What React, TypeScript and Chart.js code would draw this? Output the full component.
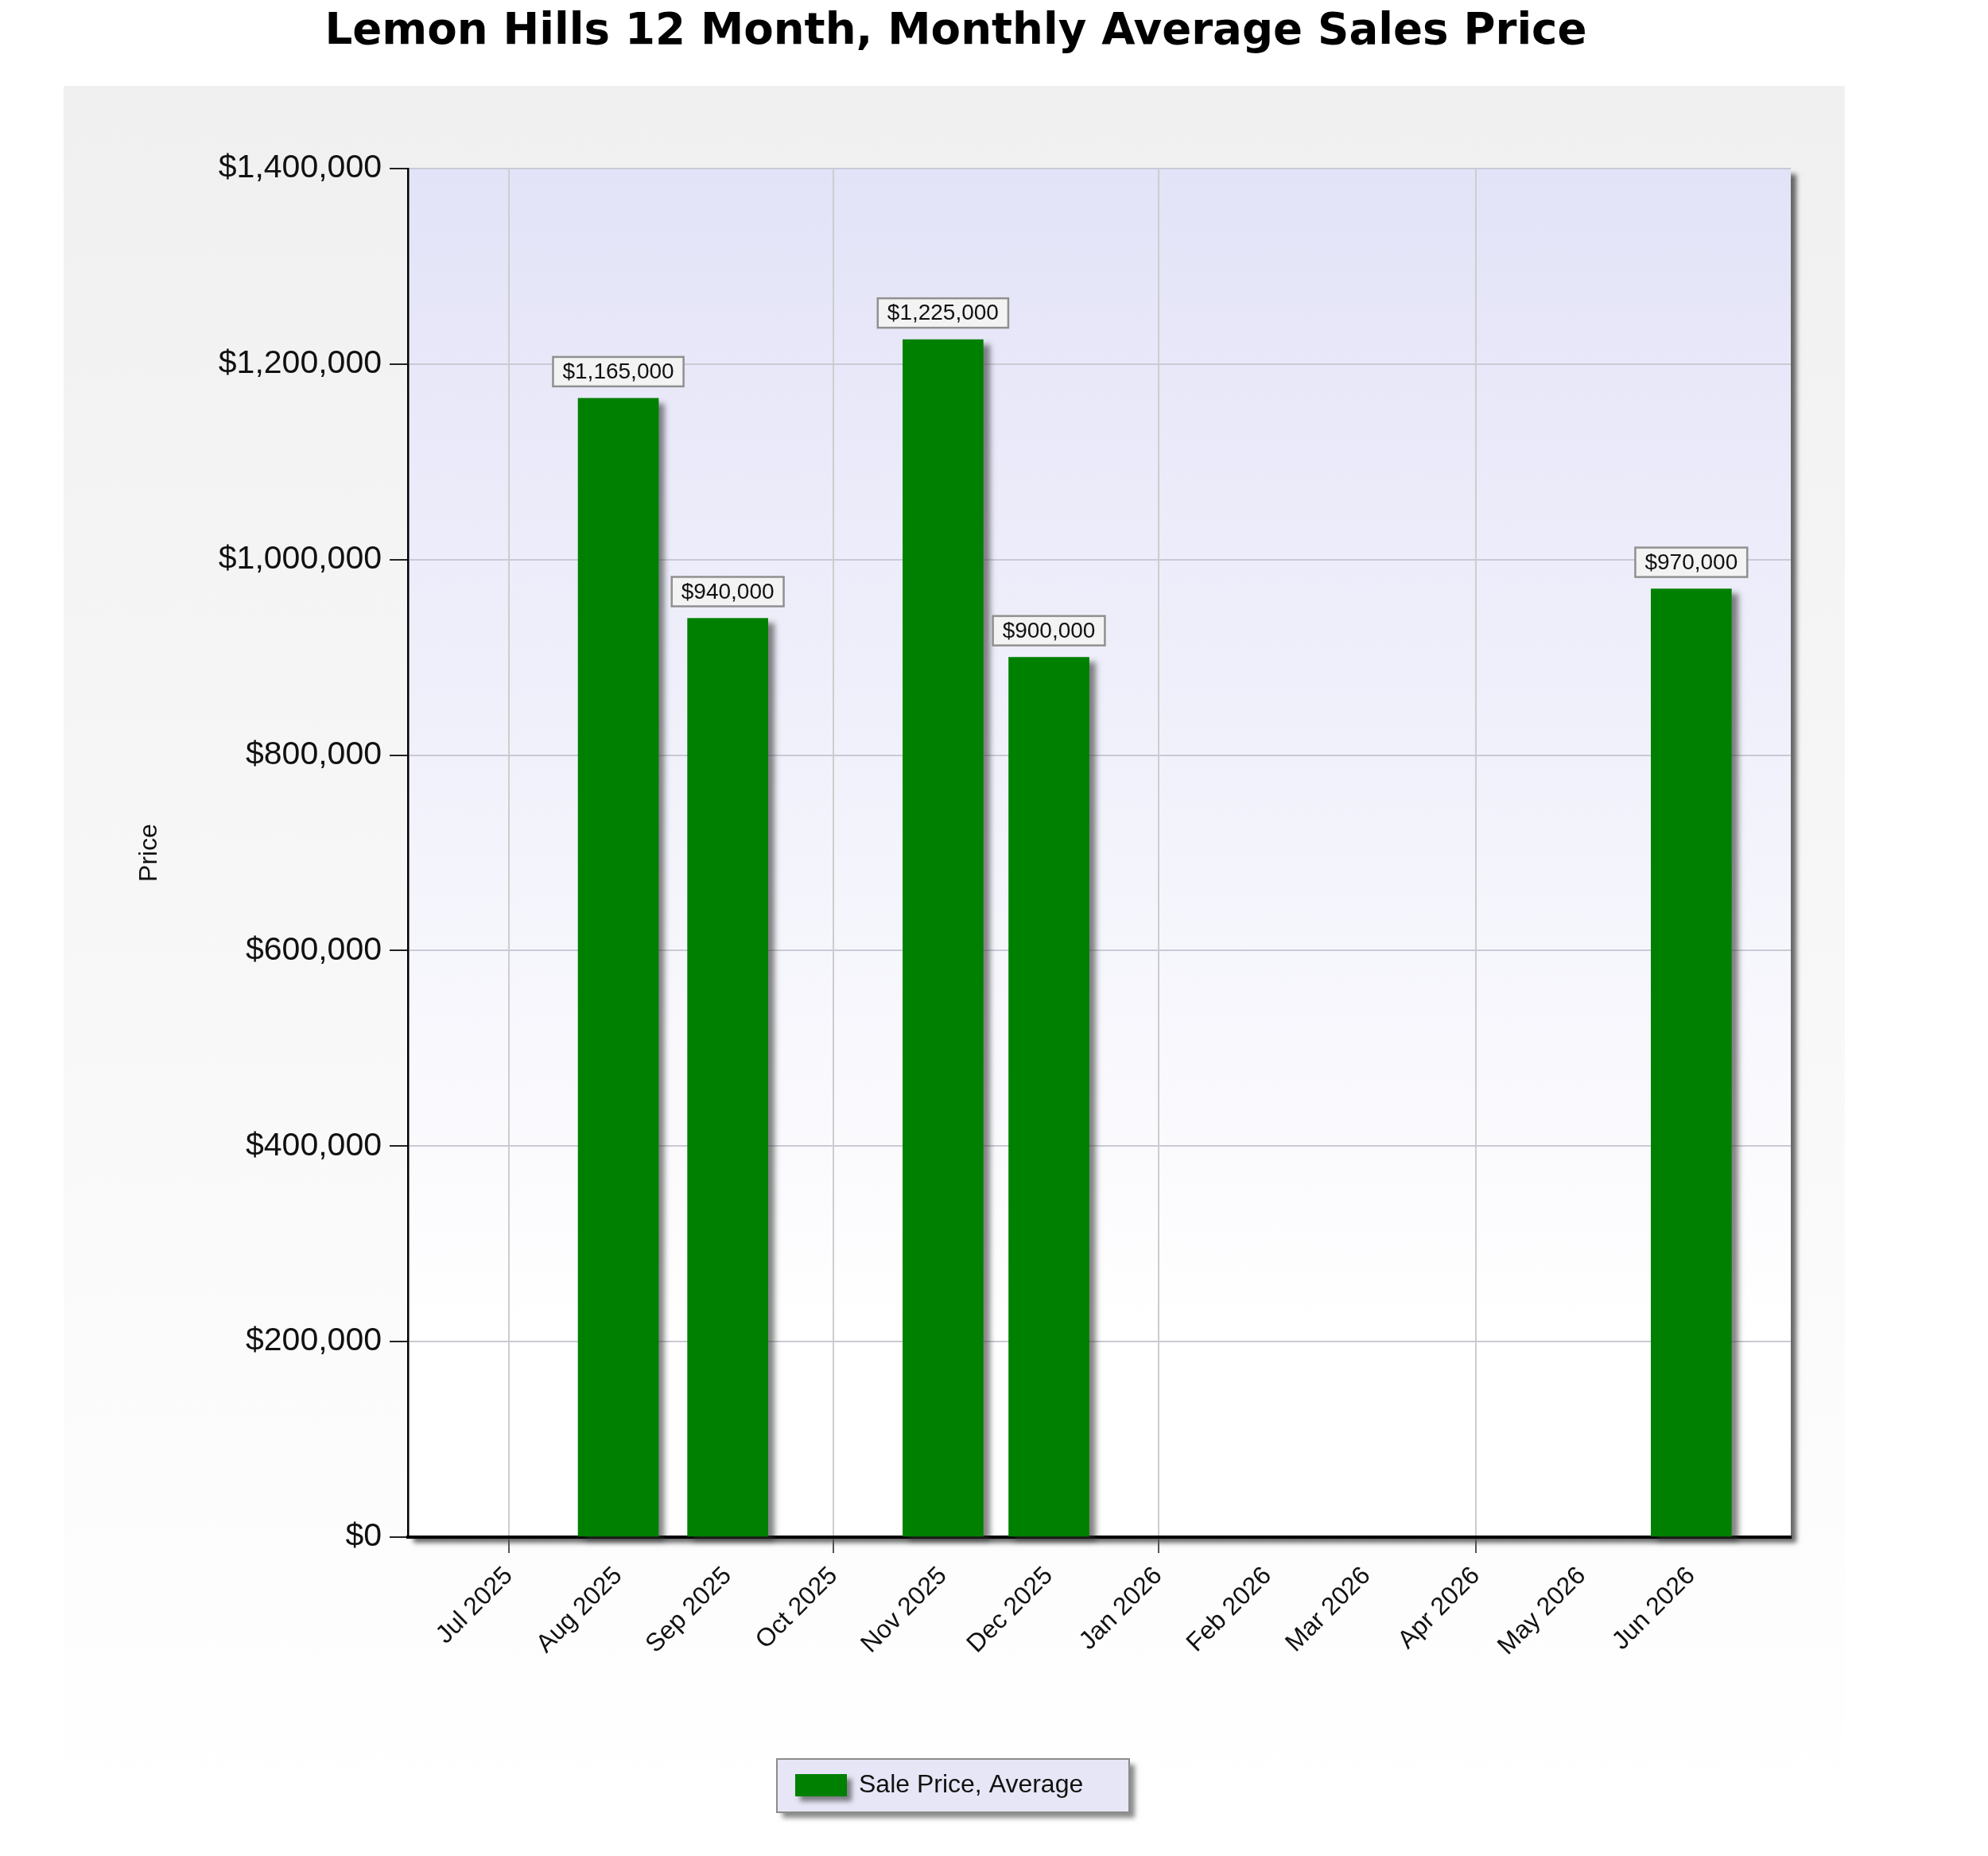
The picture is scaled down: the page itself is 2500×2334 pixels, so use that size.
import { useEffect, useRef } from "react"
import { Chart, registerables, type ChartConfiguration, type Plugin } from "chart.js"

Chart.register(...registerables)

const chartTitle = "Lemon Hills 12 Month, Monthly Average Sales Price"
const seriesLabel = "Sale Price, Average"
const months = [
  "Jul 2025", "Aug 2025", "Sep 2025", "Oct 2025", "Nov 2025", "Dec 2025",
  "Jan 2026", "Feb 2026", "Mar 2026", "Apr 2026", "May 2026", "Jun 2026",
]
const avgPrices: (number | null)[] = [
  null, 1165000, 940000, null, 1225000, 900000, null, null, null, null, null, 970000,
]
const priceTicks = [0, 200000, 400000, 600000, 800000, 1000000, 1200000, 1400000]

const W = 2500
const H = 2334
const SANS = '"Liberation Sans", Arial, sans-serif'
const BAR_GREEN = "#008000"
const DAY = 86400000

const money = (v: number) => "$" + v.toLocaleString("en-US")

// the axis is a time axis: each month sits at its first day, counted from the first month
const monthDay = (label: string) => {
  const t = Date.parse("1 " + label + " UTC")
  return Math.round((t - Date.parse("1 " + months[0] + " UTC")) / DAY)
}
const monthStarts = months.map(monthDay)

// page panel, title, plot background with drop shadow
const backdrop: Plugin = {
  id: "backdrop",
  beforeDraw(chart) {
    const { ctx, chartArea: a } = chart
    ctx.save()
    ctx.fillStyle = "#ffffff"
    ctx.fillRect(0, 0, W, H)

    const pg = ctx.createLinearGradient(0, 108, 0, 2290)
    pg.addColorStop(0, "#f0f0f0")
    pg.addColorStop(1, "#ffffff")
    ctx.fillStyle = pg
    ctx.fillRect(80, 108, 2240, 2182)

    ctx.fillStyle = "#000"
    ctx.font = 'bold 54.6px "DejaVu Sans", Verdana, sans-serif'
    ctx.textAlign = "center"
    ctx.textBaseline = "alphabetic"
    ctx.fillText(chartTitle, 1202, 55)

    ctx.shadowColor = "rgba(40,40,40,0.7)"
    ctx.shadowBlur = 6
    ctx.shadowOffsetX = 7
    ctx.shadowOffsetY = 7
    const bg = ctx.createLinearGradient(0, a.top, 0, a.bottom)
    bg.addColorStop(0, "#e3e3f8")
    bg.addColorStop(0.85, "#ffffff")
    bg.addColorStop(1, "#ffffff")
    ctx.fillStyle = bg
    ctx.fillRect(a.left, a.top, a.right - a.left, a.bottom - a.top)
    ctx.restore()
  },
}

// soft shadow under the bars
const barShadow: Plugin = {
  id: "barShadow",
  beforeDatasetDraw(chart) {
    const ctx = chart.ctx
    ctx.save()
    ctx.shadowColor = "rgba(50,50,50,0.6)"
    ctx.shadowBlur = 7
    ctx.shadowOffsetX = 8
    ctx.shadowOffsetY = 6
  },
  afterDatasetDraw(chart) {
    chart.ctx.restore()
  },
}

// boxed value labels above each bar
const valueBoxes: Plugin = {
  id: "valueBoxes",
  afterDatasetsDraw(chart) {
    const { ctx } = chart
    const meta = chart.getDatasetMeta(0)
    const data = chart.data.datasets[0].data as { x: number; y: number }[]
    ctx.save()
    ctx.font = "28px " + SANS
    ctx.textAlign = "center"
    ctx.textBaseline = "middle"
    meta.data.forEach((bar, i) => {
      const text = money(data[i].y)
      const w = ctx.measureText(text).width + 24
      const h = 37
      const x = bar.x - w / 2
      const y = bar.y - 15 - h
      ctx.fillStyle = "#f3f3f3"
      ctx.fillRect(x, y, w, h)
      ctx.strokeStyle = "#909090"
      ctx.lineWidth = 2.5
      ctx.strokeRect(x, y, w, h)
      ctx.fillStyle = "#111"
      ctx.fillText(text, bar.x, y + h / 2 + 1)
    })
    ctx.restore()
  },
}

// legend box under the plot
const legendBox: Plugin = {
  id: "legendBox",
  afterDraw(chart) {
    const { ctx } = chart
    const ds = chart.data.datasets[0]
    const bx = 977, by = 2212, bw = 443, bh = 67
    ctx.save()
    ctx.shadowColor = "rgba(60,60,60,0.6)"
    ctx.shadowBlur = 6
    ctx.shadowOffsetX = 7
    ctx.shadowOffsetY = 7
    ctx.fillStyle = "#e6e6f6"
    ctx.fillRect(bx, by, bw, bh)
    ctx.shadowColor = "transparent"
    ctx.strokeStyle = "#8c8c8c"
    ctx.lineWidth = 2
    ctx.strokeRect(bx, by, bw, bh)

    ctx.shadowColor = "rgba(50,50,50,0.6)"
    ctx.shadowBlur = 6
    ctx.shadowOffsetX = 6
    ctx.shadowOffsetY = 6
    ctx.fillStyle = ds.backgroundColor as string
    ctx.fillRect(bx + 23, by + 19, 65, 28)
    ctx.shadowColor = "transparent"

    ctx.fillStyle = "#111"
    ctx.font = "32px " + SANS
    ctx.textAlign = "left"
    ctx.textBaseline = "middle"
    ctx.fillText(ds.label as string, bx + 103, by + bh / 2)
    ctx.restore()
  },
}

export default function App() {
  const canvasRef = useRef<HTMLCanvasElement>(null)
  const chartRef = useRef<Chart | null>(null)

  useEffect(() => {
    document.body.style.margin = "0"
    if (!canvasRef.current) return

    const points = avgPrices
      .map((v, i) => (v == null ? null : { x: monthStarts[i], y: v }))
      .filter((p): p is { x: number; y: number } => p !== null)

    const config: ChartConfiguration<"bar", { x: number; y: number }[]> = {
      type: "bar",
      data: {
        datasets: [
          {
            label: seriesLabel,
            data: points,
            backgroundColor: BAR_GREEN,
            borderWidth: 0,
            barThickness: 101,
            clip: false,
          },
        ],
      },
      plugins: [backdrop, barShadow, valueBoxes, legendBox],
      options: {
        responsive: false,
        animation: false,
        devicePixelRatio: 1,
        layout: { padding: { top: 212, right: 248, left: 0, bottom: 0 } },
        plugins: {
          legend: { display: false },
          title: { display: false },
          tooltip: { enabled: false },
        },
        scales: {
          x: {
            type: "linear",
            position: "bottom",
            offset: false,
            min: -28.6,
            max: 363.2,
            z: 1,
            afterBuildTicks: (scale) => {
              scale.ticks = monthStarts.map((d) => ({ value: d }))
            },
            afterFit: (scale) => {
              scale.height = 401
            },
            ticks: {
              autoSkip: false,
              maxRotation: 45,
              minRotation: 45,
              padding: 10,
              color: "#111",
              font: { family: SANS, size: 32 },
              callback: (v, i) => months[i] ?? "",
            },
            grid: {
              offset: false,
              lineWidth: 2,
              tickLength: 20,
              color: (c) =>
                c.index % 3 === 0 ? "#cdcdcd" : "rgba(0,0,0,0)",
              tickColor: (c) =>
                c.index % 3 === 0 ? "#555" : "rgba(0,0,0,0)",
            },
            border: { display: true, color: "#000", width: 4 },
          },
          y: {
            min: 0,
            max: 1400000,
            afterBuildTicks: (scale) => {
              scale.ticks = priceTicks.map((v) => ({ value: v }))
            },
            afterFit: (scale) => {
              scale.width = 513
            },
            ticks: {
              padding: 10,
              color: "#111",
              font: { family: SANS, size: 41 },
              callback: (v) => money(Number(v)),
            },
            grid: {
              color: "#cacad6",
              lineWidth: 2,
              tickLength: 23,
              tickColor: "#222",
            },
            border: { display: true, color: "#000", width: 2.5 },
            title: {
              display: true,
              text: "Price",
              color: "#111",
              font: { family: SANS, size: 32 },
              padding: { top: 169, bottom: 0 },
            },
          },
        },
      },
    }

    chartRef.current = new Chart(canvasRef.current, config)
    return () => {
      chartRef.current?.destroy()
      chartRef.current = null
    }
  }, [])

  return (
    <div style={{ width: W, height: H }}>
      <canvas ref={canvasRef} width={W} height={H} style={{ display: "block" }} />
    </div>
  )
}
